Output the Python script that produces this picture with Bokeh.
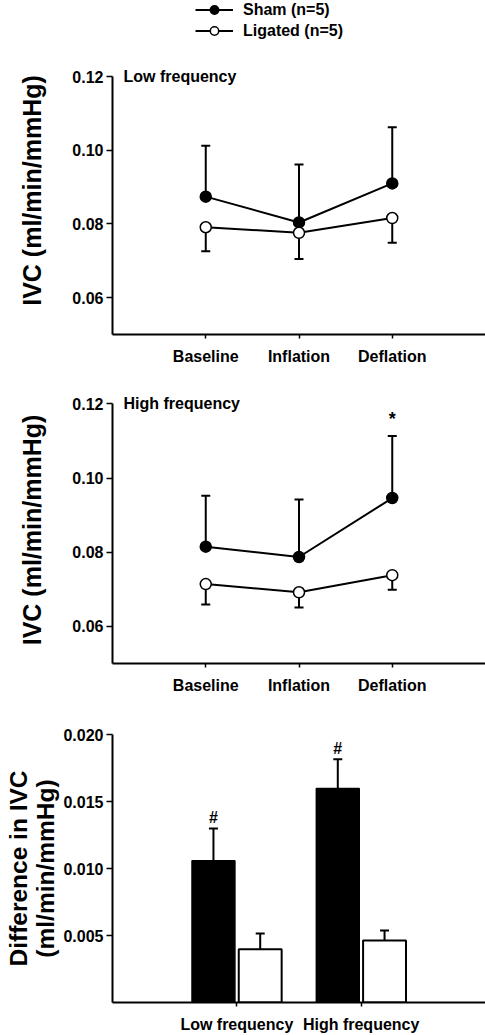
import numpy as np
from bokeh.plotting import figure
from bokeh.models import (ColumnDataSource, Whisker, TeeHead, Label, Legend, LegendItem,
                          FixedTicker, NumeralTickFormatter, Range1d)
from bokeh.layouts import column
from bokeh.embed import file_html
from bokeh.resources import INLINE

# ---------------- data ----------------
phases = ["Baseline", "Inflation", "Deflation"]
series_labels = ["Sham (n=5)", "Ligated (n=5)"]

sham_low = [0.0874, 0.0804, 0.0910]
sham_low_err = [0.0138, 0.0157, 0.0152]
lig_low = [0.0791, 0.0776, 0.0816]
lig_low_err = [0.0065, 0.0071, 0.0067]

sham_high = [0.0815, 0.0787, 0.0946]
sham_high_err = [0.0137, 0.0155, 0.0167]
lig_high = [0.0714, 0.0692, 0.0738]
lig_high_err = [0.0055, 0.0041, 0.0039]

freq_groups = ["Low frequency", "High frequency"]
sham_diff = [0.01058, 0.01597]
sham_diff_err = [0.00241, 0.00219]
lig_diff = [0.00397, 0.00463]
lig_diff_err = [0.00118, 0.00074]

ivc_ticks = [0.06, 0.08, 0.10, 0.12]
diff_ticks = [0.005, 0.010, 0.015, 0.020]

FONT = "Liberation Sans"
W = 485


def style(p, xticks, xlabels, yticks, yfmt, ybounds, ylabel):
    p.outline_line_color = None
    p.xgrid.visible = False
    p.ygrid.visible = False
    p.background_fill_color = "white"
    p.border_fill_color = "white"
    for ax in (p.xaxis[0], p.yaxis[0]):
        ax.axis_line_width = 2
        ax.axis_line_color = "black"
        ax.major_tick_line_width = 1.5
        ax.major_tick_line_color = "black"
        ax.minor_tick_line_color = None
        ax.major_tick_in = 0
        ax.major_label_text_font = FONT
        ax.major_label_text_font_style = "bold"
        ax.major_label_text_font_size = "16px"
        ax.major_label_text_color = "black"
    p.xaxis[0].ticker = FixedTicker(ticks=xticks)
    p.xaxis[0].major_label_overrides = {t: l for t, l in zip(xticks, xlabels)}
    p.xaxis[0].major_tick_out = 4
    p.xaxis[0].major_label_standoff = 9
    ya = p.yaxis[0]
    ya.ticker = FixedTicker(ticks=yticks)
    ya.formatter = NumeralTickFormatter(format=yfmt)
    ya.major_tick_out = 6
    ya.major_label_standoff = 3
    ya.bounds = ybounds
    ya.axis_label = ylabel
    ya.axis_label_text_font = FONT
    ya.axis_label_text_font_style = "bold"
    ya.axis_label_text_font_size = "25px"
    ya.axis_label_text_color = "black"
    ya.axis_label_standoff = 23


def draw_series(p, sham, lig):
    x = list(range(1, len(phases) + 1))
    r1 = p.line(x, sham, line_color="black", line_width=2)
    r2 = p.scatter(x, sham, size=11, fill_color="black", line_color="black", line_width=1.5)
    r3 = p.line(x, lig, line_color="black", line_width=2)
    r4 = p.scatter(x, lig, size=11, fill_color="white", line_color="black", line_width=1.5)
    return r1, r2, r3, r4


def line_panel(sham, sham_err, lig, lig_err, title, height, ytop, btop, bbot):
    p = figure(width=W, height=height, output_backend="svg", toolbar_location=None,
               x_range=Range1d(0, 4), y_range=Range1d(0.05, ytop),
               min_border_left=112, min_border_right=0,
               min_border_top=btop, min_border_bottom=bbot)
    x = list(range(1, len(phases) + 1))
    s_src = ColumnDataSource(dict(x=x, y=sham, up=[v + e for v, e in zip(sham, sham_err)]))
    l_src = ColumnDataSource(dict(x=x, y=lig, lo=[v - e for v, e in zip(lig, lig_err)]))
    ws = Whisker(source=s_src, base="x", lower="y", upper="up", dimension="height",
                 line_color="black", line_width=2, level="underlay",
                 upper_head=TeeHead(size=9, line_width=2, line_color="black"),
                 lower_head=None)
    wl = Whisker(source=l_src, base="x", lower="lo", upper="y", dimension="height",
                 line_color="black", line_width=2, level="underlay",
                 lower_head=TeeHead(size=9, line_width=2, line_color="black"),
                 upper_head=None)
    p.add_layout(ws)
    p.add_layout(wl)
    draw_series(p, sham, lig)
    style(p, x, phases, ivc_ticks, "0.00", (0.05, 0.12), "IVC (ml/min/mmHg)")
    p.add_layout(Label(x=0.118, y=0.12, text=title, text_font=FONT,
                       text_font_style="bold", text_font_size="16px",
                       text_align="left", text_baseline="middle", text_color="black"))
    return p


# ---------------- legend strip (series samples lie outside its visible range) ----------------
p0 = figure(width=W, height=46, output_backend="svg", toolbar_location=None,
            x_range=Range1d(0, 4), y_range=Range1d(1, 2),
            x_axis_type=None, y_axis_type=None,
            min_border_left=112, min_border_right=0, min_border_top=0, min_border_bottom=0)
p0.outline_line_color = None
p0.background_fill_color = "white"
p0.border_fill_color = "white"
b1, b2, b3, b4 = draw_series(p0, sham_low, lig_low)
legend = Legend(items=[LegendItem(label=series_labels[0], renderers=[b1, b2]),
                       LegendItem(label=series_labels[1], renderers=[b3, b4])],
                location=(83, 5), orientation="vertical",
                glyph_width=38, glyph_height=21, label_height=21, spacing=0,
                padding=0, margin=0, label_standoff=10,
                border_line_color=None, background_fill_alpha=0,
                label_text_font=FONT, label_text_font_style="bold",
                label_text_font_size="16px", label_text_color="black")
p0.add_layout(legend)

p1 = line_panel(sham_low, sham_low_err, lig_low, lig_low_err,
                "Low frequency", 324, 0.12814, 0, 36)

p2 = line_panel(sham_high, sham_high_err, lig_high, lig_high_err,
                "High frequency", 330, 0.12197, 26, 37)
p2.add_layout(Label(x=3, y=sham_high[2] + sham_high_err[2] + 0.0047, text="*",
                    text_font=FONT, text_font_style="bold", text_font_size="18px",
                    text_align="center", text_baseline="alphabetic", text_color="black"))

# ---------------- bar panel ----------------
p3 = figure(width=W, height=335, output_backend="svg", toolbar_location=None,
            x_range=Range1d(0, 3), y_range=Range1d(0, 0.020),
            min_border_left=112, min_border_right=0,
            min_border_top=34, min_border_bottom=33)
gx = np.arange(1, len(freq_groups) + 1)
off = 0.188
bw = 0.345
sb = ColumnDataSource(dict(x=gx - off, top=sham_diff,
                           up=[v + e for v, e in zip(sham_diff, sham_diff_err)]))
lb = ColumnDataSource(dict(x=gx + off, top=lig_diff,
                           up=[v + e for v, e in zip(lig_diff, lig_diff_err)]))
for src in (sb, lb):
    p3.add_layout(Whisker(source=src, base="x", lower="top", upper="up", dimension="height",
                          line_color="black", line_width=2, level="underlay",
                          upper_head=TeeHead(size=9, line_width=2, line_color="black"),
                          lower_head=None))
p3.vbar(x="x", top="top", bottom=0, width=bw, source=sb, fill_color="black",
        line_color="black", line_width=1.5)
p3.vbar(x="x", top="top", bottom=0, width=bw, source=lb, fill_color="white",
        line_color="black", line_width=2)
style(p3, list(gx), freq_groups, diff_ticks, "0.000", (0, 0.020),
      "Difference in IVC\n(ml/min/mmHg)")
p3.yaxis[0].axis_label_text_font_size = "24.5px"
p3.yaxis[0].axis_label_text_line_height = 1.0
p3.yaxis[0].axis_label_standoff = 1
p3.xaxis[0].major_label_standoff = 9
for xi, v, e in zip(gx - off, sham_diff, sham_diff_err):
    p3.add_layout(Label(x=xi, y=v + e + 0.0008, text="#", text_font=FONT,
                        text_font_style="bold", text_font_size="16px",
                        text_align="center", text_baseline="alphabetic", text_color="black"))

layout = column(p0, p1, p2, p3, spacing=0)
open("out.html", "w").write(file_html(layout, INLINE))
